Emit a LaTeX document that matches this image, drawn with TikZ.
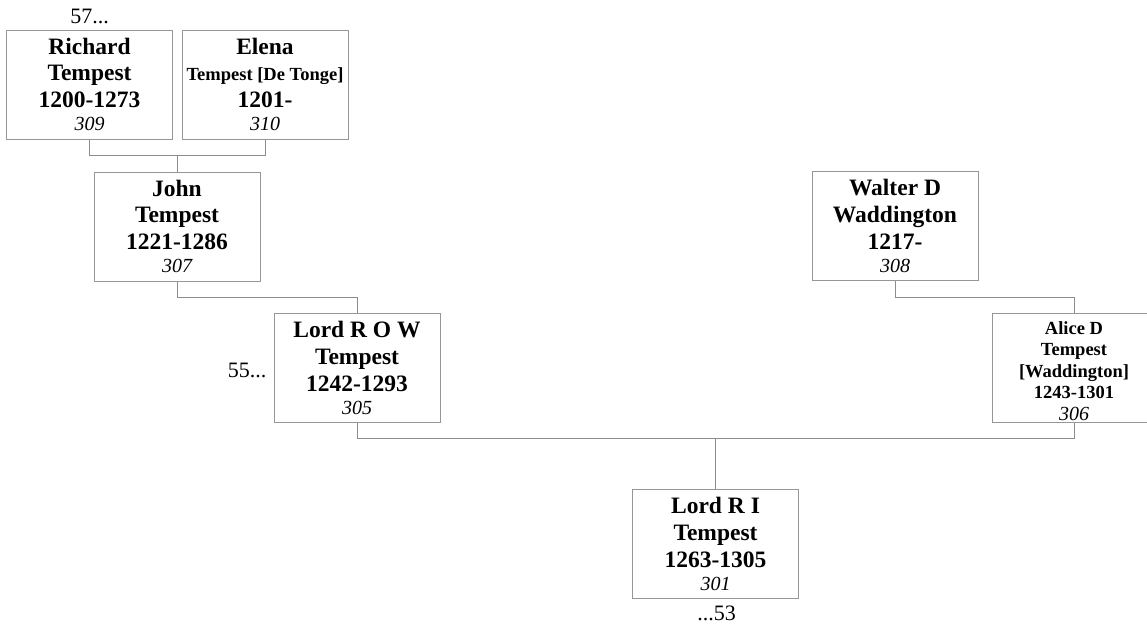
\documentclass[tikz,border=0pt]{standalone}
\usepackage{fontspec}
\setmainfont{Liberation Serif}
\usetikzlibrary{calc,positioning}
\definecolor{boxgray}{RGB}{150,150,150}
\definecolor{linegray}{RGB}{140,140,140}
\newcommand\nmfont{\fontsize{23.5}{26.7}\selectfont\bfseries}
\newcommand\smnmfont{\fontsize{18.5}{21.6}\selectfont\bfseries}
\newcommand\smf{\fontsize{18.5}{21.6}\selectfont\bfseries}
\newcommand\numf{\fontsize{20}{23}\selectfont\mdseries\itshape}
\begin{document}
\begin{tikzpicture}[x=1pt,y=-1pt,
  person/.style={draw=boxgray, line width=1pt, minimum width=166pt, minimum height=109pt,
    inner sep=0pt, align=center, font=\nmfont, text=black},
  smperson/.style={person, font=\smnmfont},
  link/.style={draw=linegray, line width=1pt},
  note/.style={font=\fontsize{22}{26}\selectfont, inner sep=0pt, text=black}]
\useasboundingbox (0,0) rectangle (1147,625);
\clip (0,0) rectangle (1147,625);

\node[person] (rich) at (89.5,84.5) {Richard\\Tempest\\1200-1273\\[-3.3pt]{\numf 309}};
\node[person] (elena) at (265,84.5) {Elena\\{\smf Tempest [De Tonge]}\\1201-\\[-3.3pt]{\numf 310}};
\node[person] (john) at (177,226.5) {John\\Tempest\\1221-1286\\[-3.3pt]{\numf 307}};
\node[person] (row) at (357,368) {Lord R O W\\Tempest\\1242-1293\\[-3.3pt]{\numf 305}};
\node[person] (walter) at (895,226) {Walter D\\Waddington\\1217-\\[-3.3pt]{\numf 308}};
\node[smperson, minimum width=164pt] (alice) at (1074,368) {\rule{0pt}{18.6pt}Alice D\\Tempest\\{}[Waddington]\\1243-1301\\{\numf 306}};
\node[person] (ri) at (715.5,544) {Lord R I\\Tempest\\1263-1305\\[-3.3pt]{\numf 301}};

\node[note, anchor=south] (n57) at ($(rich.north)+(0,-5)$) {57...};
\node[note, anchor=base east] (n55) at ($(row.west)+(-7,9)$) {55...};
\node[note, anchor=base] (n53) at ($(ri.south)+(1,21)$) {...53};

\coordinate (pj) at ($(rich.south)!0.5!(elena.south)+(0,16)$);
\coordinate (cm) at ($(alice.south)+(0,15)$);

\draw[link] (rich.south) -- ++(0,16) -| (elena.south);
\draw[link] (john.north) -- (john.north |- pj);
\draw[link] (john.south) -- ++(0,16) -| (row.north);
\draw[link] (walter.south) -- ++(0,16) -| (alice.north);
\draw[link] (alice.south) -- (cm) -| (row.south);
\draw[link] (ri.north) -- (ri.north |- cm);
\end{tikzpicture}
\end{document}
